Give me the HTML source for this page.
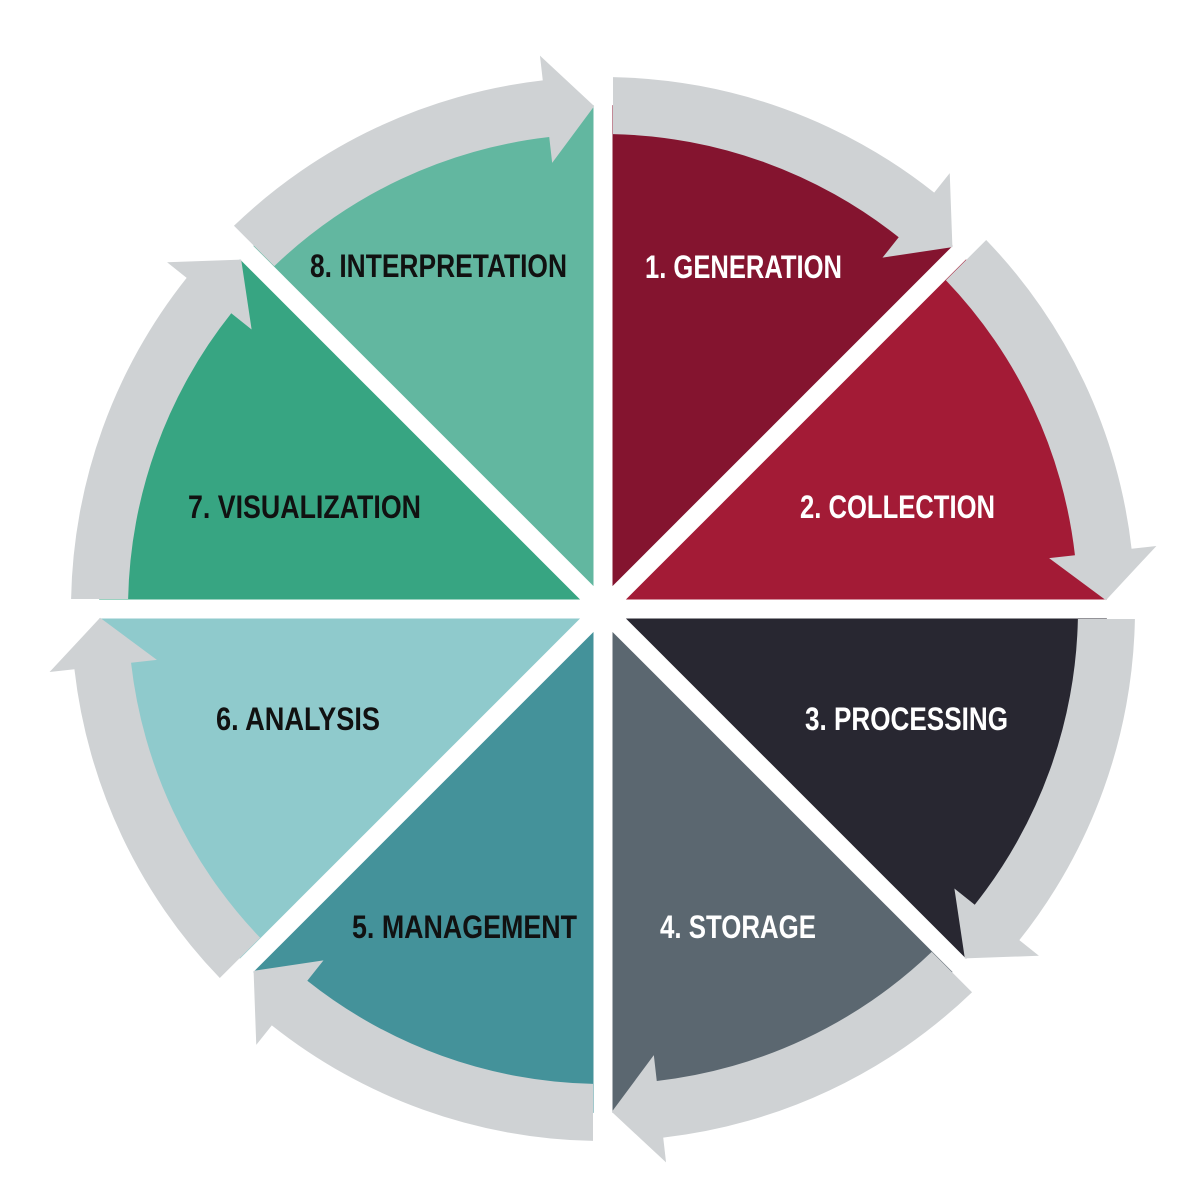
<!DOCTYPE html>
<html><head><meta charset="utf-8"><style>
html,body{margin:0;padding:0;background:#fff;width:1200px;height:1200px;overflow:hidden}
svg{display:block}
text{font-family:"Liberation Sans Narrow","Liberation Sans",sans-serif;font-weight:bold;font-size:32px}
</style></head><body>
<svg id="s" width="1200" height="1200" viewBox="0 0 1200 1200">
<g id="pie"></g>
<g id="arrows"></g>
<g>
<text x="645" y="278" fill="#fff" textLength="197" lengthAdjust="spacingAndGlyphs">1. GENERATION</text>
<text x="800" y="518" fill="#fff" textLength="195" lengthAdjust="spacingAndGlyphs">2. COLLECTION</text>
<text x="805" y="730" fill="#fff" textLength="203" lengthAdjust="spacingAndGlyphs">3. PROCESSING</text>
<text x="660" y="938" fill="#fff" textLength="156" lengthAdjust="spacingAndGlyphs">4. STORAGE</text>
<text x="352" y="938" fill="#111" textLength="225" lengthAdjust="spacingAndGlyphs">5. MANAGEMENT</text>
<text x="216" y="730" fill="#111" textLength="164" lengthAdjust="spacingAndGlyphs">6. ANALYSIS</text>
<text x="188" y="518" fill="#111" textLength="233" lengthAdjust="spacingAndGlyphs">7. VISUALIZATION</text>
<text x="310" y="277" fill="#111" textLength="257" lengthAdjust="spacingAndGlyphs">8. INTERPRETATION</text>
</g>
</svg>
<script>
(function(){
var NS="http://www.w3.org/2000/svg",cx=603,cy=609;
function P(r,a){a=a*Math.PI/180;return [(cx+r*Math.sin(a)).toFixed(2),(cy-r*Math.cos(a)).toFixed(2)];}
var cols=["#84142f","#a31b36","#282731","#5b6770","#44929a","#8fcacc","#37a582","#62b7a0"];
var pie=document.getElementById("pie"),ar=document.getElementById("arrows");
var R=504;
for(var k=0;k<8;k++){
 var a0=45*k,a1=a0+45,p0=P(R,a0),p1=P(R,a1);
 var e=document.createElementNS(NS,"path");
 e.setAttribute("d","M"+cx+" "+cy+"L"+p0+"A"+R+" "+R+" 0 0 1 "+p1+"Z");
 e.setAttribute("fill",cols[k]);pie.appendChild(e);
}
for(var k=0;k<4;k++){
 var a=P(560,45*k),b=P(560,45*k+180);
 var l=document.createElementNS(NS,"line");
 l.setAttribute("x1",a[0]);l.setAttribute("y1",a[1]);l.setAttribute("x2",b[0]);l.setAttribute("y2",b[1]);
 l.setAttribute("stroke","#fff");l.setAttribute("stroke-width","19");pie.appendChild(l);
}
var ri=475,ro=532,hi=449,ho=557,d=10;
for(var k=0;k<8;k++){
 var a0=45*k,a1=a0+45,ab=a1-6.5,at=a1-1;
 var ti=P(ri,a0+Math.asin(d/ri)*180/Math.PI),to=P(ro,a0+Math.asin(d/ro)*180/Math.PI);
 var s="M"+ti+"L"+to+"A"+ro+" "+ro+" 0 0 1 "+P(ro,ab)+"L"+P(ho,ab)+"L"+P(503,at)+"L"+P(hi,ab)+"L"+P(ri,ab)+"A"+ri+" "+ri+" 0 0 0 "+ti+"Z";
 var e=document.createElementNS(NS,"path");
 e.setAttribute("d",s);e.setAttribute("fill","#cfd2d4");ar.appendChild(e);
}
})();
</script>
</body></html>
